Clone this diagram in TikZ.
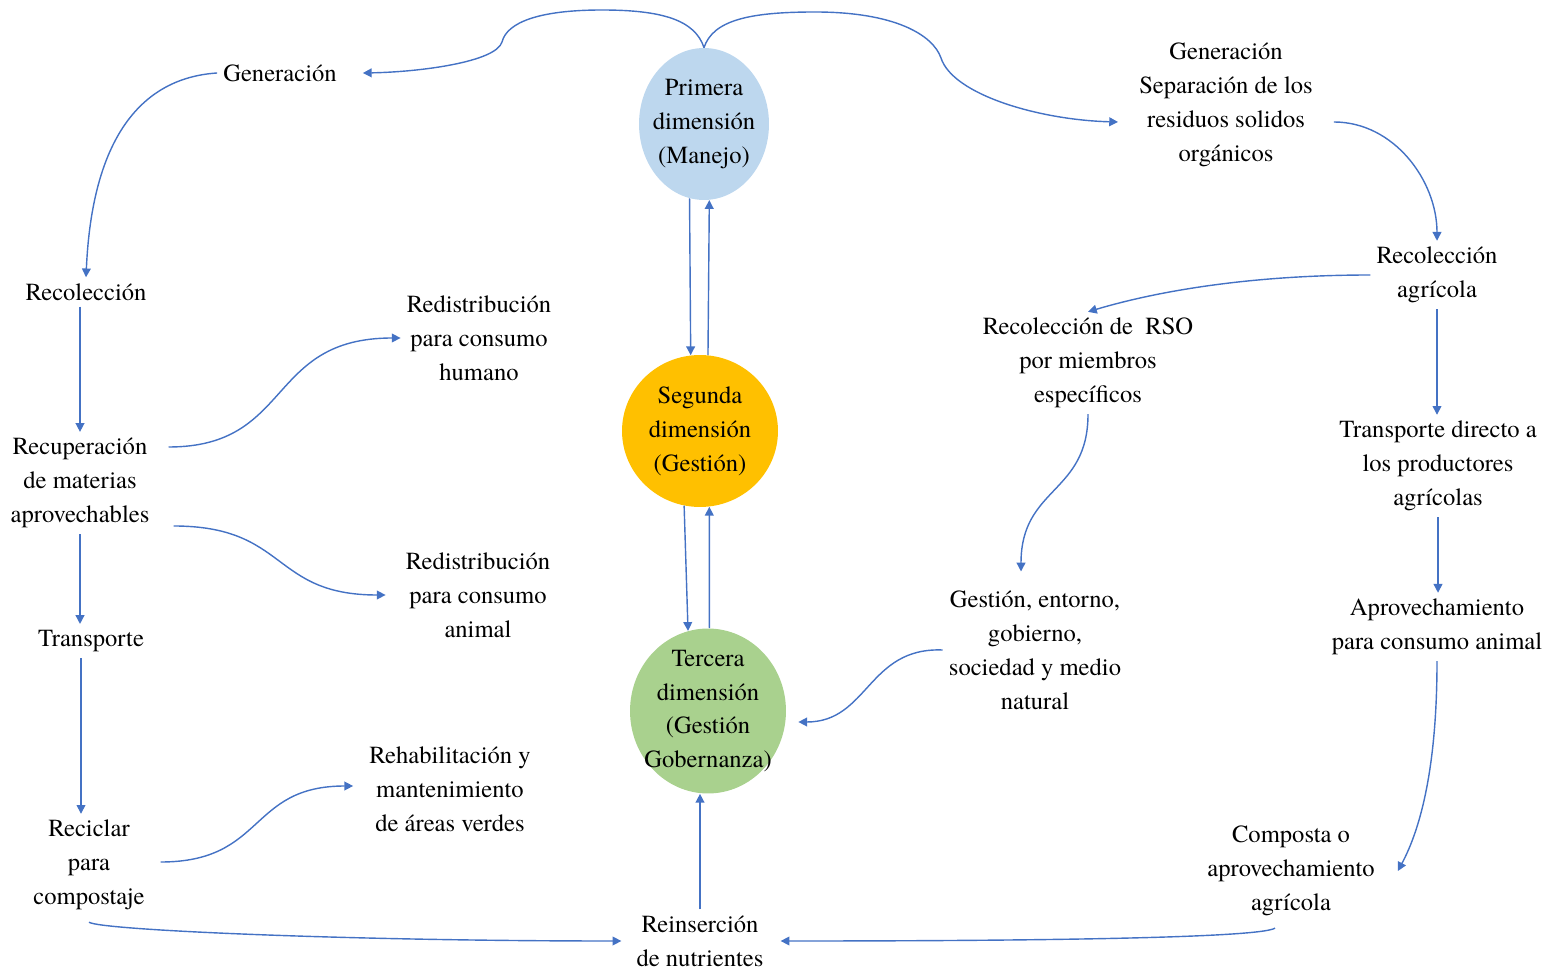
\documentclass[tikz,border=0pt]{standalone}
\usepackage{fontspec}
\IfFontExistsTF{texgyretermes-regular.otf}
  {\setmainfont{texgyretermes}[Extension=.otf, UprightFont=*-regular, BoldFont=*-bold, ItalicFont=*-italic, BoldItalicFont=*-bolditalic]}
  {\setmainfont{Liberation Serif}}
\usetikzlibrary{arrows.meta}
\usetikzlibrary{shapes.geometric}
\definecolor{azul}{HTML}{BDD7EE}
\definecolor{amarillo}{HTML}{FFC000}
\definecolor{verde}{HTML}{A9D18E}
\definecolor{flecha}{HTML}{4472C4}

\begin{document}
\begin{tikzpicture}[x=0.02cm, y=-0.02cm]
	\tikzset{txt/.style={align=center, font=\fontsize{14}{19.3}\selectfont}}
	\tikzset{dim/.style={shape = ellipse, inner sep = 0pt, align=center, font=\fontsize{14}{19.3}\selectfont}}
	\tikzset{arr/.style={draw=flecha, line width=0.8pt, -{Triangle[length=5pt,width=5pt]}}}
	\useasboundingbox (0,0) rectangle (1548,972);
	%dimensiones
	\node[dim, fill=azul, inner sep=-0.3cm, minimum width=2.6cm, minimum height=3.04cm] (pri) at (704,124) {Primera\\dimensión\\(Manejo)};
	\node[dim, fill=amarillo, minimum width=3.12cm, minimum height=3.04cm] (seg) at (700,431) {Segunda\\dimensión\\(Gestión)};
	\node[dim, fill=verde, inner sep=-0.3cm, minimum width=3.12cm, minimum height=3.3cm] (ter) at (708,711) {Tercera\\dimensión\\(Gestión\\Gobernanza)};
	%izquierda
	\node[txt] (gen1) at (280,73) {Generación};
	\node[txt] (rec1) at (86,292) {Recolección};
	\node[txt] (recu) at (80,483) {Recuperación\\de materias\\aprovechables};
	\node[txt] (trans) at (91,641) {Transporte};
	\node[txt] (recic) at (89,865) {Reciclar\\para\\compostaje};
	\node[txt] (redh) at (479,338) {Redistribución\\para consumo\\humano};
	\node[txt] (reda) at (478,595) {Redistribución\\para consumo\\animal};
	\node[txt] (rehab) at (450,789) {Rehabilitación y\\mantenimiento\\de áreas verdes};
	\node[txt] (rein) at (700,941) {Reinserción\\de nutrientes};
	%derecha
	\node[txt] (sep) at (1226,105) {Generación\\Separación de los\\residuos solidos\\orgánicos};
	\node[txt] (recag) at (1437,275) {Recolección\\agrícola};
	\node[txt] (rso) at (1088,363) {Recolección de\ \ RSO\\por miembros\\específicos};
	\node[txt] (tdir) at (1438,466) {Transporte directo a\\los productores\\agrícolas};
	\node[txt] (apro) at (1437,627) {Aprovechamiento\\para consumo animal};
	\node[txt] (gest) at (1035,650) {Gestión, entorno,\\gobierno,\\sociedad y medio\\natural};
	\node[txt] (comp) at (1291,871) {Composta o\\aprovechamiento\\agrícola};
	%flechas
	\draw[arr] (pri.north) .. controls (695,20) and (662,10) .. (602,10) .. controls (540,10) and (507,22) .. (502,42) .. controls (496,62) and (420,72) .. ([xshift=0.4cm]gen1.east);
	\draw[arr] (pri.north) .. controls (713,20) and (750,12) .. (815,12) .. controls (895,12) and (933,35) .. (941,58) .. controls (953,95) and (1040,120) .. ([xshift=-0.3cm,yshift=-0.34cm]sep.west);
	\draw[arr] (gen1.west) .. controls (140,78) and (92,140) .. (rec1.north);
	\draw[arr] (rec1.south -| recu.north) -- (recu.north);
	\draw[arr] (recu.south) -- (recu.south |- trans.north);
	\draw[arr] ([xshift=-0.2cm]trans.south) -- ([xshift=-0.2cm]trans.south |- recic.north);
	\draw[arr] ([xshift=0.26cm,yshift=0.72cm]recu.east) .. controls +(125,0) and +(-135,0) .. (redh.west);
	\draw[arr] ([xshift=0.36cm,yshift=-0.86cm]recu.east) .. controls +(115,0) and +(-115,0) .. ([xshift=-0.28cm]reda.west);
	\draw[arr] ([xshift=0.2cm,yshift=0.06cm]recic.east) .. controls +(105,0) and +(-105,0) .. ([xshift=-0.2cm,yshift=0.06cm]rehab.west);
	\draw[arr] ([yshift=-0.12cm]recic.south) .. controls +(11,8) and +(-270,0) .. ([xshift=-0.18cm]rein.west);
	\draw[arr] ([xshift=-0.32cm,yshift=-0.12cm]comp.south) .. controls +(-15,10) and +(250,0) .. ([xshift=0.22cm]rein.east);
	\draw[arr] (rein.north) -- (rein.north |- ter.south);
	\draw[arr] (pri.259) -- (seg.97);
	\draw[arr] (seg.84) -- (pri.274);
	\draw[arr] (seg.258) -- (ter.104);
	\draw[arr] (ter.89) -- (seg.277);
	\draw[arr] (gest.west) .. controls +(-75,-3) and +(70,0) .. ([shift={(0.24cm,-0.22cm)}]ter.east);
	\draw[arr] (rso.south) .. controls +(0,80) and +(0,-85) .. ([xshift=-0.28cm,yshift=0.26cm]gest.north);
	\draw[arr] (recag.west) .. controls +(-130,0) and +(60,-18) .. (rso.north);
	\draw[arr] ([xshift=0.3cm,yshift=-0.34cm]sep.east) .. controls +(60,0) and +(0,-60) .. (recag.north);
	\draw[arr] (recag.south) -- (recag.south |- tdir.north);
	\draw[arr] (tdir.south) -- (tdir.south |- apro.north);
	\draw[arr] (apro.south) .. controls +(0,105) and +(23,-43) .. ([xshift=0.34cm]comp.east);
\end{tikzpicture}
\end{document}
